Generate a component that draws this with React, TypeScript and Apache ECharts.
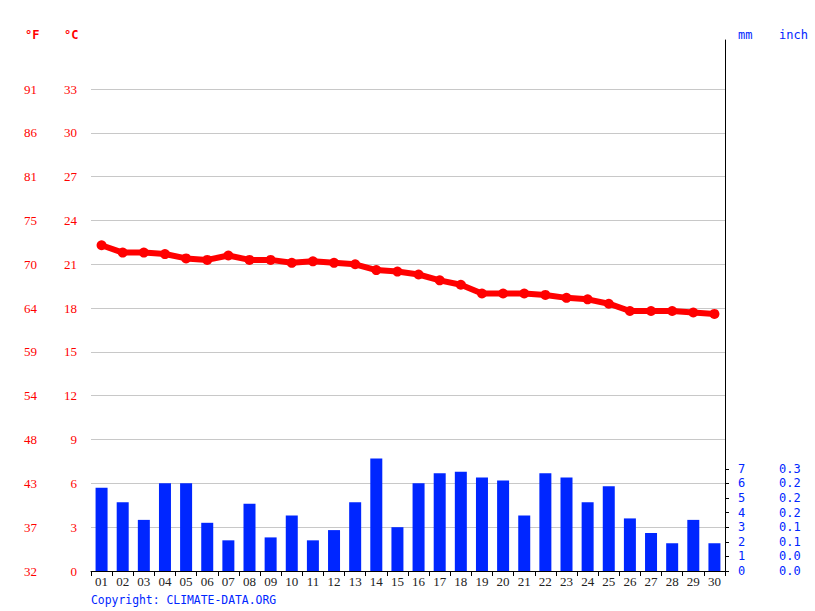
import React, { useEffect, useRef } from "react";
import * as echarts from "echarts";

const days = ["01","02","03","04","05","06","07","08","09","10","11","12","13","14","15","16","17","18","19","20","21","22","23","24","25","26","27","28","29","30"];
const tempC = [22.3,21.8,21.8,21.7,21.4,21.3,21.6,21.3,21.3,21.1,21.2,21.1,21.0,20.6,20.5,20.3,19.9,19.6,19.0,19.0,19.0,18.9,18.7,18.6,18.3,17.8,17.8,17.8,17.7,17.6];
const precipMm = [5.7,4.7,3.5,6.0,6.0,3.3,2.1,4.6,2.3,3.8,2.1,2.8,4.7,7.7,3.0,6.0,6.7,6.8,6.4,6.2,3.8,6.7,6.4,4.7,5.8,3.6,2.6,1.9,3.5,1.9];
const celsiusTicks = [0,3,6,9,12,15,18,21,24,27,30,33];
const fahrenheitLabels = ["32","37","43","48","54","59","64","70","75","81","86","91"];
const mmTicks = [0,1,2,3,4,5,6,7];
const inchLabels = ["0.0","0.0","0.1","0.1","0.2","0.2","0.2","0.3"];

const RED = "#ff0000";
const BLUE = "#0026ff";
const MONO = "DejaVu Sans Mono";
const SERIF = "Liberation Serif";

export default function App() {
  const ref = useRef<HTMLDivElement>(null);
  useEffect(() => {
    if (!ref.current) return;
    const chart = echarts.init(ref.current, null, { renderer: "svg" });
    const gridPos = { left: 91, right: 90, bottom: 40 };
    chart.setOption({
      animation: false,
      grid: [
        { ...gridPos, top: 89 },
        { ...gridPos, top: 40 },
      ],
      xAxis: [
        {
          type: "category",
          gridIndex: 0,
          data: days,
          boundaryGap: true,
          axisLine: { lineStyle: { color: "#000", width: 1 } },
          axisTick: { show: true, length: 5, alignWithLabel: false, lineStyle: { color: "#000" } },
          axisLabel: { color: "#222", fontFamily: SERIF, fontSize: 13, margin: 4, interval: 0 },
        },
        { type: "category", gridIndex: 1, data: days, show: false },
      ],
      yAxis: [
        {
          type: "value",
          gridIndex: 0,
          position: "left",
          min: 0,
          max: 33,
          interval: 3,
          axisLine: { show: false },
          axisTick: { show: false },
          splitLine: { show: true, lineStyle: { color: "#c8c8c8", width: 1 } },
          axisLabel: { color: RED, fontFamily: SERIF, fontSize: 13, margin: 14 },
        },
        {
          type: "value",
          gridIndex: 0,
          position: "left",
          offset: 40,
          min: 0,
          max: 33,
          interval: 3,
          axisLine: { show: false },
          axisTick: { show: false },
          splitLine: { show: false },
          axisLabel: {
            color: RED,
            fontFamily: SERIF,
            fontSize: 13,
            margin: 14,
            formatter: (v: number) => fahrenheitLabels[celsiusTicks.indexOf(Math.round(v))] ?? "",
          },
        },
        {
          type: "value",
          gridIndex: 0,
          position: "right",
          min: 0,
          max: 33,
          interval: 1,
          axisLine: { show: true, lineStyle: { color: "#000", width: 1 } },
          axisTick: { show: true, length: 4, customValues: mmTicks, lineStyle: { color: "#000" } },
          splitLine: { show: false },
          axisLabel: { color: BLUE, fontFamily: MONO, fontSize: 12, margin: 13, customValues: mmTicks },
        },
        {
          type: "value",
          gridIndex: 0,
          position: "right",
          offset: 41,
          min: 0,
          max: 33,
          interval: 1,
          axisLine: { show: false },
          axisTick: { show: false },
          splitLine: { show: false },
          axisLabel: {
            color: BLUE,
            fontFamily: MONO,
            fontSize: 12,
            margin: 13,
            customValues: mmTicks,
            formatter: (v: number) => inchLabels[mmTicks.indexOf(Math.round(v))] ?? "",
          },
        },
        {
          type: "value",
          gridIndex: 1,
          position: "right",
          min: 0,
          max: 1,
          axisLine: { show: true, lineStyle: { color: "#000", width: 1 } },
          axisTick: { show: false },
          axisLabel: { show: false },
          splitLine: { show: false },
        },
      ],
      series: [
        {
          type: "bar",
          name: "Precipitation",
          xAxisIndex: 0,
          yAxisIndex: 2,
          data: precipMm,
          barWidth: 12,
          itemStyle: { color: BLUE },
          z: 2,
        },
        {
          type: "line",
          name: "Temperature",
          xAxisIndex: 0,
          yAxisIndex: 0,
          data: tempC,
          symbol: "circle",
          symbolSize: 10,
          lineStyle: { color: RED, width: 6 },
          itemStyle: { color: RED },
          z: 3,
        },
      ],
      graphic: [
        { type: "text", left: 25, top: 29, style: { text: "°F", fill: RED, font: `bold 12px ${MONO}` } },
        { type: "text", left: 64, top: 29, style: { text: "°C", fill: RED, font: `bold 12px ${MONO}` } },
        { type: "text", left: 738, top: 29, style: { text: "mm", fill: BLUE, font: `12px ${MONO}` } },
        { type: "text", left: 779, top: 29, style: { text: "inch", fill: BLUE, font: `12px ${MONO}` } },
        { type: "text", left: 91, top: 594, style: { text: "Copyright: CLIMATE-DATA.ORG", fill: BLUE, font: `11.4px ${MONO}` } },
      ],
    });
    return () => chart.dispose();
  }, []);
  return <div ref={ref} style={{ width: 815, height: 611, position: "absolute", left: 0, top: 0 }} />;
}
